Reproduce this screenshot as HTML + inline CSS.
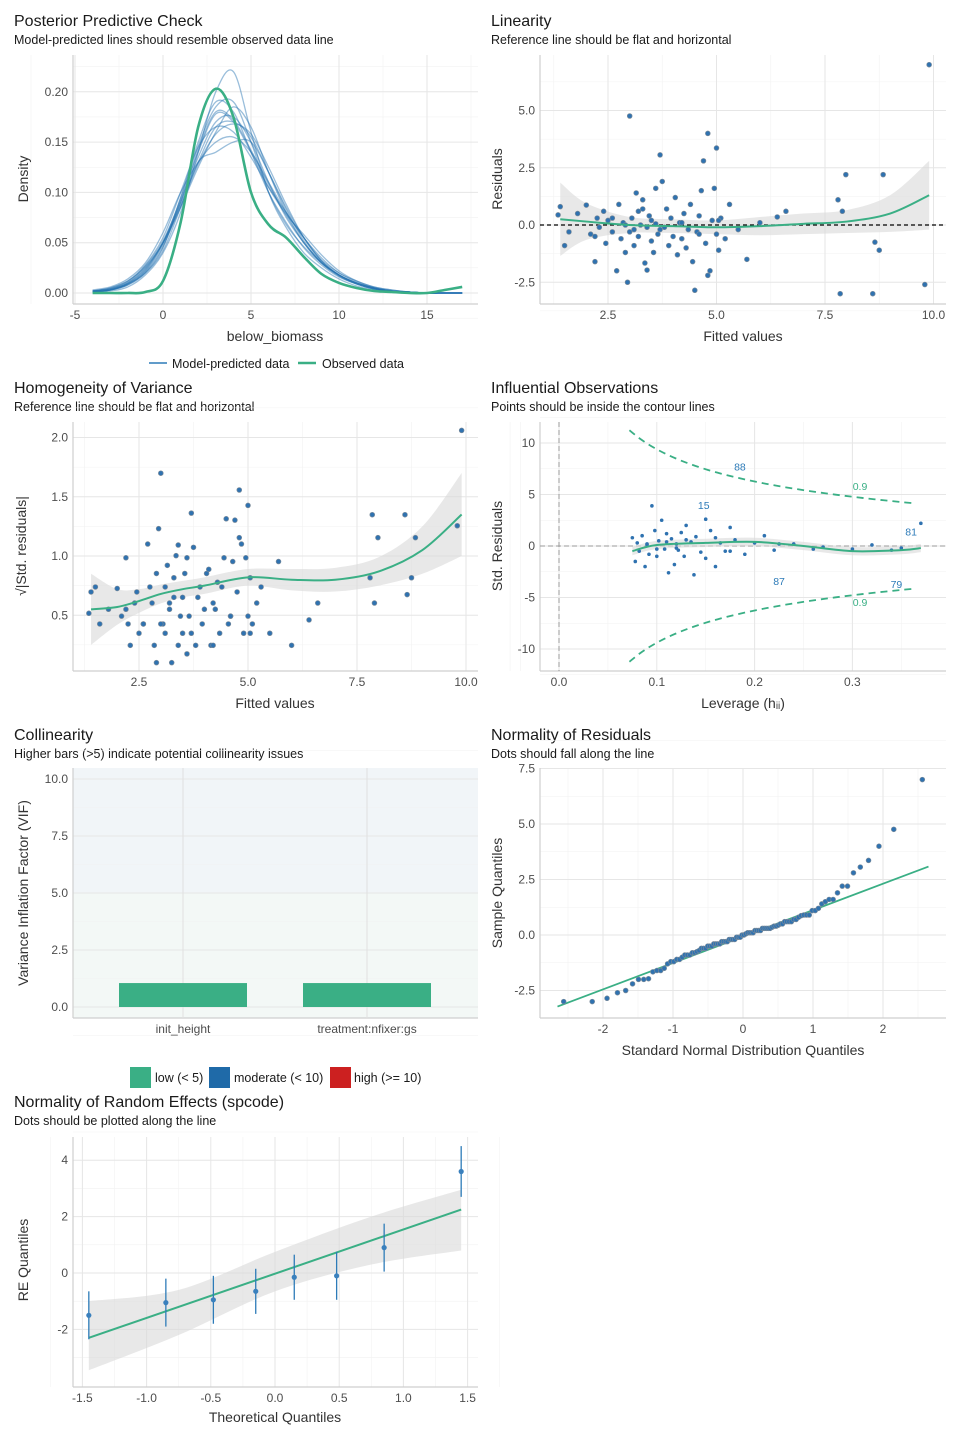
<!DOCTYPE html>
<html><head><meta charset="utf-8"><style>
body{margin:0;background:#fff}
svg{display:block;font-family:"Liberation Sans",sans-serif}
.tt{font-size:16px;fill:#1a1a1a}
.st{font-size:12.5px;fill:#1a1a1a}
.tk{font-size:12px;fill:#4d4d4d}
.at{font-size:14px;fill:#333}
</style></head><body>
<svg id="c" width="960" height="1440" xmlns="http://www.w3.org/2000/svg"></svg>
<script>
// ---------- data ----------
const ppcX=[-4,-3,-2,-1,0,1,2,3,4,5,6,7,8,9,10,11,12,13,14,15,16,17];
const ppcObs=[0,0,0,0.001,0.012,0.07,0.165,0.203,0.175,0.1,0.068,0.055,0.036,0.019,0.01,0.005,0.002,0.001,0,0,0.003,0.006];
const ppcPred1=[0.002,0.004,0.01,0.025,0.05,0.09,0.135,0.17,0.175,0.15,0.11,0.075,0.05,0.03,0.018,0.01,0.005,0.002,0.001,0,0,0];
const ppcPred2=[0.001,0.003,0.008,0.02,0.045,0.095,0.15,0.19,0.18,0.14,0.1,0.07,0.045,0.028,0.016,0.009,0.004,0.002,0.001,0,0,0];
const ppcPred3=[0.003,0.006,0.014,0.03,0.06,0.1,0.13,0.15,0.155,0.14,0.11,0.08,0.055,0.035,0.02,0.012,0.006,0.003,0.001,0,0,0];
const ppcPred4=[0.001,0.002,0.006,0.018,0.04,0.08,0.14,0.2,0.22,0.16,0.1,0.065,0.04,0.025,0.014,0.007,0.003,0.001,0,0,0,0];
const ppcPred5=[0.002,0.005,0.012,0.028,0.055,0.1,0.145,0.165,0.16,0.135,0.105,0.08,0.055,0.033,0.02,0.011,0.005,0.002,0.001,0,0,0];
const ppcPred6=[0.001,0.003,0.009,0.022,0.048,0.085,0.125,0.16,0.185,0.165,0.12,0.08,0.05,0.03,0.017,0.009,0.004,0.002,0.001,0,0,0];
const ppcPred7=[0.002,0.004,0.011,0.027,0.052,0.092,0.14,0.178,0.17,0.14,0.105,0.078,0.058,0.038,0.022,0.012,0.006,0.003,0.001,0,0,0];
const ppcPred8=[0.001,0.003,0.009,0.02,0.042,0.085,0.13,0.14,0.15,0.15,0.12,0.085,0.055,0.032,0.018,0.009,0.004,0.002,0.001,0,0,0];
const ppcPred9=[0.002,0.004,0.01,0.024,0.05,0.088,0.13,0.165,0.17,0.155,0.12,0.083,0.052,0.03,0.017,0.009,0.004,0.002,0.001,0,0,0];
const ppcPred10=[0.001,0.003,0.008,0.021,0.046,0.09,0.142,0.18,0.172,0.142,0.108,0.077,0.05,0.031,0.018,0.01,0.005,0.002,0.001,0,0,0];
const ppcPred11=[0.002,0.005,0.012,0.026,0.05,0.086,0.128,0.158,0.168,0.158,0.125,0.088,0.055,0.032,0.018,0.01,0.005,0.002,0.001,0,0,0];
const ppcPred12=[0.001,0.003,0.009,0.023,0.05,0.094,0.146,0.185,0.19,0.15,0.1,0.068,0.046,0.03,0.018,0.01,0.005,0.002,0.001,0,0,0];
const ppcPreds=[ppcPred1,ppcPred2,ppcPred3,ppcPred4,ppcPred5,ppcPred6,ppcPred7,ppcPred8,ppcPred9,ppcPred10,ppcPred11,ppcPred12];

const fitted=[1.35,1.4,1.5,1.6,1.8,2.0,2.1,2.2,2.25,2.3,2.4,2.45,2.5,2.6,2.7,2.75,2.8,2.85,2.9,2.95,3.0,3.05,3.1,3.1,3.15,3.2,3.2,3.25,3.3,3.35,3.4,3.45,3.5,3.5,3.55,3.6,3.6,3.65,3.7,3.75,3.8,3.85,3.9,3.95,4.0,4.05,4.1,4.15,4.2,4.25,4.3,4.35,4.4,4.45,4.5,4.55,4.6,4.65,4.7,4.75,4.8,4.8,4.85,4.9,4.95,5.0,5.0,5.05,5.1,5.2,5.3,5.5,5.7,6.0,6.4,6.6,7.8,7.85,7.9,7.98,8.6,8.65,8.75,8.84,9.8,9.9,2.2,2.6,3.0,3.3,3.7,4.2,4.6,5.05,3.4,2.9];
const resid=[0.44,0.8,-0.9,-0.3,0.5,0.87,-0.4,-1.6,0.3,-0.1,0.6,-0.8,0.2,-0.3,-2.0,0.9,-0.6,0.1,-1.2,-2.5,4.76,0.3,-0.2,-0.9,1.4,0.6,-0.5,0.0,1.1,-1.66,-1.97,0.4,-0.7,0.2,-1.2,1.6,0.05,-0.4,3.06,1.9,-0.1,0.7,-0.9,0.3,-0.5,1.2,-1.3,0.1,-0.6,0.5,-1.0,-0.2,0.9,-1.6,-2.85,-0.3,0.4,1.5,2.8,-0.8,-2.2,4.0,-2.0,0.2,1.6,3.36,-0.4,-1.1,0.3,-0.6,0.9,-0.2,-1.5,0.1,0.35,0.6,1.1,-3.0,0.6,2.2,-3.0,-0.75,-1.1,2.2,-2.6,7.0,-0.5,0.3,-0.3,0.7,-0.2,0.1,-0.4,0.2,-0.1,0.0];
const residScale=1.65;

const linX=[1.4,2,3,4,5,6,7,8,9,9.9];
const linFit=[0.25,0.15,0.0,-0.05,-0.1,-0.05,0.05,0.15,0.5,1.3];
const linSe=[1.6,0.8,0.35,0.3,0.3,0.4,0.45,0.5,0.8,1.5];

const homX=[1.4,2,2.5,3,3.5,4,5,6,7,8,9,9.9];
const homFit=[0.55,0.57,0.62,0.68,0.72,0.75,0.82,0.8,0.8,0.87,1.05,1.35];
const homSe=[0.3,0.15,0.1,0.08,0.07,0.07,0.07,0.09,0.1,0.12,0.2,0.35];

const leverage=[0.075,0.078,0.08,0.082,0.085,0.088,0.09,0.092,0.095,0.098,0.1,0.102,0.105,0.108,0.11,0.112,0.115,0.118,0.12,0.122,0.125,0.128,0.13,0.135,0.138,0.14,0.145,0.15,0.155,0.16,0.165,0.17,0.175,0.18,0.19,0.2,0.21,0.22,0.24,0.26,0.27,0.3,0.32,0.35,0.37,0.09,0.1,0.11,0.12,0.13,0.15,0.16,0.175,0.225,0.34];
const stdRes=[0.8,-1.5,0.3,-0.5,1.0,-2.0,0.2,-0.8,3.9,1.5,-1.0,0.5,2.5,-0.3,1.2,-2.6,0.7,-1.8,0.2,-0.4,1.3,-1.0,2.0,0.4,-2.8,0.9,-0.6,2.6,1.5,-2.0,0.3,-0.5,1.8,0.6,-0.8,0.3,1.0,-0.4,0.2,-0.3,-0.1,-0.3,0.1,-0.2,2.2,0.1,-0.3,0.4,-0.2,0.6,-1.2,0.8,-0.5,0.2,-0.4];
const infLabels=["88","15","81","87","79"];
const infLabLev=[0.185,0.148,0.36,0.225,0.345];
const infLabRes=[7.7,4.0,1.4,-3.4,-3.7];
const infSmX=[0.075,0.1,0.15,0.2,0.25,0.3,0.35,0.37];
const infSmY=[-0.5,0.1,0.3,0.4,0.0,-0.5,-0.4,-0.2];
const cookK=9.8;

const vifTerms=["init_height","treatment:nfixer:gs"];
const vifValues=[1.05,1.05];

const qqSlope=1.19, qqInt=-0.07;

const reX=[-1.45,-0.85,-0.48,-0.15,0.15,0.48,0.85,1.45];
const reY=[-1.5,-1.05,-0.95,-0.65,-0.15,-0.1,0.9,3.6];
const reErr=[0.85,0.85,0.85,0.8,0.8,0.85,0.85,0.9];
const reLineX=[-1.45,1.45];
const reLineY=[-2.3,2.25];
const reBandX=[-1.45,-0.75,0,0.75,1.45];
const reBandLo=[-3.45,-2.2,-0.65,0.3,0.8];
const reBandHi=[-1.0,-0.6,0.75,2.0,2.95];

// ---------- helpers ----------
const svg=document.getElementById('c');
const NS='http://www.w3.org/2000/svg';
function mk(tag,attrs,name,parent){
  const e=document.createElementNS(NS,tag);
  for(const k in attrs)e.setAttribute(k,attrs[k]);
  
  
  (parent||svg).appendChild(e);return e;
}
function txt(x,y,s,cls,name,anchor,extra){
  const t=mk('text',Object.assign({x:x,y:y,class:cls,'text-anchor':anchor||'start'},extra||{}),name);
  t.textContent=s;return t;
}
function smooth(pts){
  let d='M'+pts[0][0]+','+pts[0][1];
  for(let i=0;i<pts.length-1;i++){
    const p0=pts[i-1]||pts[i],p1=pts[i],p2=pts[i+1],p3=pts[i+2]||p2;
    const c1=[p1[0]+(p2[0]-p0[0])/6,p1[1]+(p2[1]-p0[1])/6];
    const c2=[p2[0]-(p3[0]-p1[0])/6,p2[1]-(p3[1]-p1[1])/6];
    d+=' C'+c1+' '+c2+' '+p2;
  }
  return d;
}
function panel(o){
  const g=mk('g',{},o.name+'-grid');
  if(o.bg) o.bg(g);
  const minor=(arr,fn,horiz)=>{for(let i=0;i<arr.length-1;i++){const v=(fn(arr[i])+fn(arr[i+1]))/2;
    if(horiz) mk('line',{x1:o.x0,x2:o.x1,y1:v,y2:v,stroke:'#f2f2f2','stroke-width':0.6},'minor-gridline',g);
    else mk('line',{y1:o.y0,y2:o.y1,x1:v,x2:v,stroke:'#f2f2f2','stroke-width':0.6},'minor-gridline',g);}};
  if(o.xt){const ext=[o.xt[0]-(o.xt[1]-o.xt[0])].concat(o.xt,[o.xt[o.xt.length-1]+(o.xt[1]-o.xt[0])]);minor(ext,o.sx,false);}
  if(o.yt){const ext=[o.yt[0]-(o.yt[1]-o.yt[0])].concat(o.yt,[o.yt[o.yt.length-1]+(o.yt[1]-o.yt[0])]);minor(ext,o.sy,true);}
  if(o.xt)o.xt.forEach(v=>{const x=o.sx(v);mk('line',{x1:x,x2:x,y1:o.y0,y2:o.y1,stroke:'#e6e6e6','stroke-width':1},'major-gridline-x',g);
    txt(x,o.y1+15,o.xl?o.xl(v):String(v),'tk','x-tick-label','middle');});
  if(o.yt)o.yt.forEach(v=>{const y=o.sy(v);mk('line',{x1:o.x0,x2:o.x1,y1:y,y2:y,stroke:'#e6e6e6','stroke-width':1},'major-gridline-y',g);
    txt(o.x0-5,y+4,o.yl?o.yl(v):String(v),'tk','y-tick-label','end');});
  mk('line',{x1:o.x0,x2:o.x0,y1:o.y0,y2:o.y1,stroke:'#cfcfcf','stroke-width':1.2},'y-axis-line');
  mk('line',{x1:o.x0,x2:o.x1,y1:o.y1,y2:o.y1,stroke:'#cfcfcf','stroke-width':1.2},'x-axis-line');
}
function dot(x,y,name){mk('circle',{cx:x,cy:y,r:2.4,fill:'#2f72b0',stroke:'#7a8a99','stroke-width':0.7},name);}
function heads(x,y,t,s){txt(x,y,t,'tt','panel-title');txt(x,y+18,s,'st','panel-subtitle');}
const f1=v=>v.toFixed(1), f2=v=>v.toFixed(2);

// ---------- Panel 1: PPC ----------
heads(14,26,'Posterior Predictive Check','Model-predicted lines should resemble observed data line');
const p1={name:'ppc',x0:73,x1:478,y0:55,y1:304,sx:x=>163+17.6*x,sy:y=>293-1006*y,xt:[-5,0,5,10,15],yt:[0,0.05,0.1,0.15,0.2],yl:f2};
panel(p1);
ppcPreds.forEach(s=>{mk('path',{d:smooth(ppcX.map((x,i)=>[p1.sx(x),p1.sy(s[i])])),fill:'none',stroke:'#1f6fb0','stroke-width':1.3,'stroke-opacity':0.45},'model-predicted-line');});
mk('path',{d:smooth(ppcX.map((x,i)=>[p1.sx(x),p1.sy(ppcObs[i])])),fill:'none',stroke:'#3aaf85','stroke-width':2.6},'observed-density-line');
txt(275,341,'below_biomass','at','x-axis-title','middle');
txt(28,179,'Density','at','y-axis-title','middle',{transform:'rotate(-90 28 179)'});
mk('line',{x1:149,x2:167,y1:363,y2:363,stroke:'#2d7bb8','stroke-width':1.5},'legend-key-model');
txt(172,368,'Model-predicted data','st','legend-label-model');
mk('line',{x1:298,x2:316,y1:363,y2:363,stroke:'#3aaf85','stroke-width':2.5},'legend-key-observed');
txt(322,368,'Observed data','st','legend-label-observed');

// ---------- Panel 2: Linearity ----------
heads(491,26,'Linearity','Reference line should be flat and horizontal');
const p2={name:'linearity',x0:540,x1:946,y0:55,y1:304,sx:x=>608+43.4*(x-2.5),sy:y=>225-22.9*y,xt:[2.5,5,7.5,10],yt:[-2.5,0,2.5,5],xl:f1,yl:f1};
panel(p2);
{const up=linX.map((x,i)=>[p2.sx(x),p2.sy(linFit[i]+linSe[i])]),lo=linX.map((x,i)=>[p2.sx(x),p2.sy(linFit[i]-linSe[i])]).reverse();
 mk('path',{d:smooth(up)+' L'+lo[0]+' '+smooth(lo).slice(1)+' Z',fill:'#d9d9d9','fill-opacity':0.6},'confidence-band');}
mk('line',{x1:p2.x0,x2:p2.x1,y1:p2.sy(0),y2:p2.sy(0),stroke:'#000','stroke-dasharray':'4,3','stroke-width':1.2},'reference-line');
fitted.forEach((f,i)=>dot(p2.sx(f),p2.sy(resid[i]),'residual-point'));
mk('path',{d:smooth(linX.map((x,i)=>[p2.sx(x),p2.sy(linFit[i])])),fill:'none',stroke:'#3aaf85','stroke-width':2},'loess-line');
txt(743,341,'Fitted values','at','x-axis-title','middle');
txt(502,179,'Residuals','at','y-axis-title','middle',{transform:'rotate(-90 502 179)'});

// ---------- Panel 3: Homogeneity ----------
heads(14,393,'Homogeneity of Variance','Reference line should be flat and horizontal');
const p3={name:'homogeneity',x0:73,x1:478,y0:422,y1:671,sx:x=>139+43.6*(x-2.5),sy:y=>556-118.5*(y-1),xt:[2.5,5,7.5,10],yt:[0.5,1,1.5,2],xl:f1,yl:f1};
panel(p3);
{const up=homX.map((x,i)=>[p3.sx(x),p3.sy(homFit[i]+homSe[i])]),lo=homX.map((x,i)=>[p3.sx(x),p3.sy(homFit[i]-homSe[i])]).reverse();
 mk('path',{d:smooth(up)+' L'+lo[0]+' '+smooth(lo).slice(1)+' Z',fill:'#d9d9d9','fill-opacity':0.6},'confidence-band');}
fitted.forEach((f,i)=>dot(p3.sx(f),p3.sy(Math.max(0.1,Math.sqrt(Math.abs(resid[i])/residScale))),'scale-location-point'));
mk('path',{d:smooth(homX.map((x,i)=>[p3.sx(x),p3.sy(homFit[i])])),fill:'none',stroke:'#3aaf85','stroke-width':2},'loess-line');
txt(275,708,'Fitted values','at','x-axis-title','middle');
txt(26,546,'√|Std. residuals|','at','y-axis-title','middle',{transform:'rotate(-90 26 546)'});

// ---------- Panel 4: Influential ----------
heads(491,393,'Influential Observations','Points should be inside the contour lines');
const p4={name:'influential',x0:540,x1:946,y0:422,y1:671,sx:x=>559+978*x,sy:y=>546-10.3*y,xt:[0,0.1,0.2,0.3],yt:[-10,-5,0,5,10],xl:f1};
panel(p4);
mk('line',{x1:p4.sx(0),x2:p4.sx(0),y1:p4.y0,y2:p4.y1,stroke:'#999','stroke-dasharray':'5,3'},'zero-leverage-line');
mk('line',{x1:p4.x0,x2:p4.x1,y1:p4.sy(0),y2:p4.sy(0),stroke:'#999','stroke-dasharray':'5,3'},'zero-residual-line');
{const hs=[];for(let h=0.072;h<=0.372;h+=0.01)hs.push(h);
 [1,-1].forEach(sg=>mk('path',{d:smooth(hs.map(h=>[p4.sx(h),p4.sy(sg*Math.sqrt(cookK*(1-h)/h))])),fill:'none',stroke:'#3aaf85','stroke-width':1.8,'stroke-dasharray':'7,5'},'cooks-distance-contour'));}
mk('path',{d:smooth(infSmX.map((x,i)=>[p4.sx(x),p4.sy(infSmY[i]+0.4)]))+' L'+smooth(infSmX.map((x,i)=>[p4.sx(x),p4.sy(infSmY[i]-0.4)]).reverse()).slice(1)+' Z',fill:'#d9d9d9','fill-opacity':0.6},'confidence-band');
leverage.forEach((h,i)=>mk('circle',{cx:p4.sx(h),cy:p4.sy(stdRes[i]),r:1.8,fill:'#2f72b0'},'leverage-point'));
mk('path',{d:smooth(infSmX.map((x,i)=>[p4.sx(x),p4.sy(infSmY[i])])),fill:'none',stroke:'#3aaf85','stroke-width':2},'loess-line');
infLabels.forEach((l,i)=>txt(p4.sx(infLabLev[i]),p4.sy(infLabRes[i])+4,l,'tk','point-label','middle',{style:'font-size:10.5px;fill:#2d7bb8'}));
txt(860,490,'0.9','tk','contour-label','middle',{style:'font-size:10.5px;fill:#3aaf85'});
txt(860,606,'0.9','tk','contour-label','middle',{style:'font-size:10.5px;fill:#3aaf85'});
txt(743,708,'Leverage (hᵢᵢ)','at','x-axis-title','middle');
txt(502,546,'Std. Residuals','at','y-axis-title','middle',{transform:'rotate(-90 502 546)'});

// ---------- Panel 5: Collinearity ----------
heads(14,740,'Collinearity','Higher bars (>5) indicate potential collinearity issues');
const p5={name:'collinearity',x0:73,x1:478,y0:768,y1:1018,sy:y=>1007-22.8*y,yt:[0,2.5,5,7.5,10],yl:f1,
  bg:g=>{mk('rect',{x:73,y:768,width:405,height:p5.sy(5)-768,fill:'#f1f5f8'},'moderate-zone',g);
         mk('rect',{x:73,y:p5.sy(5),width:405,height:1018-p5.sy(5),fill:'#f3f8f6'},'low-zone',g);}};
panel(p5);
const bx=i=>183+184*i;
vifTerms.forEach((t,i)=>{mk('line',{x1:bx(i),x2:bx(i),y1:768,y2:1018,stroke:'#e0e0e0'},'gridline-x');
  mk('rect',{x:bx(i)-64,y:p5.sy(vifValues[i]),width:128,height:p5.sy(0)-p5.sy(vifValues[i]),fill:'#3aaf85'},'vif-bar-'+i);
  txt(bx(i),1033,t,'tk','x-tick-label','middle');});
txt(28,893,'Variance Inflation Factor (VIF)','at','y-axis-title','middle',{transform:'rotate(-90 28 893)'});
mk('rect',{x:130,y:1067,width:21,height:21,fill:'#3aaf85'},'legend-key-low');
txt(155,1082,'low (< 5)','st','legend-label-low');
mk('rect',{x:209,y:1067,width:21,height:21,fill:'#1f6aa8'},'legend-key-moderate');
txt(234,1082,'moderate (< 10)','st','legend-label-moderate');
mk('rect',{x:330,y:1067,width:21,height:21,fill:'#cc2020'},'legend-key-high');
txt(354,1082,'high (>= 10)','st','legend-label-high');

// ---------- Panel 6: QQ ----------
heads(491,740,'Normality of Residuals','Dots should fall along the line');
const p6={name:'qq',x0:540,x1:946,y0:768,y1:1018,sx:x=>743+70*x,sy:y=>935-22.2*y,xt:[-2,-1,0,1,2],yt:[-2.5,0,2.5,5,7.5],yl:f1};
panel(p6);
function qnorm(p){const a=[-39.69683028665376,220.9460984245205,-275.9285104469687,138.357751867269,-30.66479806614716,2.506628277459239],
 b=[-54.47609879822406,161.5858368580409,-155.6989798598866,66.80131188771972,-13.28068155288572],
 c=[-0.007784894002430293,-0.3223964580411365,-2.400758277161838,-2.549732539343734,4.374664141464968,2.938163982698783],
 d=[0.007784695709041462,0.3224671290700398,2.445134137142996,3.754408661907416];
 if(p<0.02425){const q=Math.sqrt(-2*Math.log(p));return (((((c[0]*q+c[1])*q+c[2])*q+c[3])*q+c[4])*q+c[5])/((((d[0]*q+d[1])*q+d[2])*q+d[3])*q+1);}
 if(p>1-0.02425)return -qnorm(1-p);
 const q=p-0.5,r=q*q;return (((((a[0]*r+a[1])*r+a[2])*r+a[3])*r+a[4])*r+a[5])*q/(((((b[0]*r+b[1])*r+b[2])*r+b[3])*r+b[4])*r+1);}
mk('line',{x1:p6.sx(-2.65),y1:p6.sy(qqInt+qqSlope*-2.65),x2:p6.sx(2.65),y2:p6.sy(qqInt+qqSlope*2.65),stroke:'#3aaf85','stroke-width':1.8},'qq-reference-line');
{const s=resid.slice().sort((a,b)=>a-b),n=s.length;s.forEach((v,i)=>dot(p6.sx(qnorm((i+0.5)/n)),p6.sy(v),'qq-point'));}
txt(743,1055,'Standard Normal Distribution Quantiles','at','x-axis-title','middle');
txt(502,893,'Sample Quantiles','at','y-axis-title','middle',{transform:'rotate(-90 502 893)'});

// ---------- Panel 7: RE ----------
heads(14,1107,'Normality of Random Effects (spcode)','Dots should be plotted along the line');
const p7={name:'random-effects',x0:73,x1:478,y0:1137,y1:1387,sx:x=>275+128.4*x,sy:y=>1273-28.2*y,xt:[-1.5,-1,-0.5,0,0.5,1,1.5],yt:[-2,0,2,4],xl:f1};
panel(p7);
{const up=reBandX.map((x,i)=>[p7.sx(x),p7.sy(reBandHi[i])]),lo=reBandX.map((x,i)=>[p7.sx(x),p7.sy(reBandLo[i])]).reverse();
 mk('path',{d:smooth(up)+' L'+lo[0]+' '+smooth(lo).slice(1)+' Z',fill:'#d9d9d9','fill-opacity':0.6},'confidence-band');}
mk('line',{x1:p7.sx(reLineX[0]),y1:p7.sy(reLineY[0]),x2:p7.sx(reLineX[1]),y2:p7.sy(reLineY[1]),stroke:'#3aaf85','stroke-width':2},'re-reference-line');
reX.forEach((x,i)=>{mk('line',{x1:p7.sx(x),x2:p7.sx(x),y1:p7.sy(reY[i]-reErr[i]),y2:p7.sy(reY[i]+reErr[i]),stroke:'#2d7bb8','stroke-width':1.3},'re-error-bar');
  mk('circle',{cx:p7.sx(x),cy:p7.sy(reY[i]),r:2.6,fill:'#3a80bd'},'re-point');});
txt(275,1422,'Theoretical Quantiles','at','x-axis-title','middle');
txt(28,1260,'RE Quantiles','at','y-axis-title','middle',{transform:'rotate(-90 28 1260)'});
</script>
</body></html>
